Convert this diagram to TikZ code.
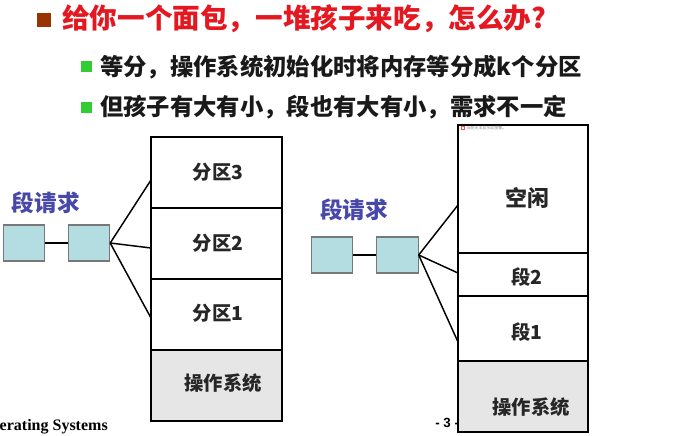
\documentclass[tikz,border=0pt]{standalone}
\usepackage{fontspec}
\setmainfont{Noto Sans CJK SC}
\newfontfamily\serifbold{Liberation Serif}
\newfontfamily\arialfont{Liberation Sans}
\definecolor{titlered}{RGB}{228,24,32}
\definecolor{bulletbrown}{RGB}{153,51,0}
\definecolor{bulletgreen}{RGB}{51,204,51}
\definecolor{reqblue}{RGB}{72,72,168}
\definecolor{reqcyan}{RGB}{180,221,226}
\definecolor{boxgray}{RGB}{120,120,120}
\definecolor{osgray}{RGB}{230,230,230}

\begin{document}
\begin{tikzpicture}[x=0.75pt,y=0.75pt,yscale=-1,xscale=1,
  cell/.style={draw=black,line width=1.5pt,minimum width=98.25pt,inner sep=0pt},
  oscell/.style={cell,fill=osgray},
  req/.style={draw=boxgray,fill=reqcyan,line width=0.8pt,minimum width=31pt,minimum height=27pt,inner sep=0pt},
  link/.style={line width=1.1pt},
  celltext/.style={inner sep=0pt,text=black!85,font=\bfseries\fontsize{14.5}{17}\selectfont},
  reqtext/.style={inner sep=0pt,text=reqblue,font=\bfseries\fontsize{17}{20}\selectfont},
  subtext/.style={anchor=west,inner sep=0pt,text=black!90,font=\bfseries\fontsize{17.5}{20}\selectfont},
]
\useasboundingbox (0,0) rectangle (690,436);

%Shape: Square bullets
\draw (43.5,20) node (b0) [fill=bulletbrown,minimum size=10.5pt,inner sep=0pt] {};
\draw (86.5,66.5) node (b1) [fill=bulletgreen,minimum size=8.25pt,inner sep=0pt] {};
\draw (86.5,107.5) node (b2) [fill=bulletgreen,minimum size=8.25pt,inner sep=0pt] {};

% Text Node
\draw (62,19) node (t0) [anchor=west,inner sep=0pt,text=titlered,font=\bfseries\fontsize{20.7}{24}\selectfont] {给你一个面包，一堆孩子来吃，怎么办?};
% Text Node
\draw (100,67) node (t1) [subtext] {等分，操作系统初始化时将内存等分成k个分区};
% Text Node
\draw (100,107) node (t2) [subtext] {但孩子有大有小，段也有大有小，需求不一定};

% Text Node
\draw (108,427) node (foot) [anchor=east,inner sep=0pt,font=\serifbold\bfseries\fontsize{12}{14}\selectfont] {Operating Systems};
% Text Node
\draw (435,423) node (pageno) [anchor=west,inner sep=0pt,font=\arialfont\bfseries\fontsize{10}{12}\selectfont] {- 3 -};

%Shape: Rectangle (left memory)
\draw (216.5,172.5) node (p3) [cell,minimum height=53.25pt] {};
\draw (216.5,243.5) node (p2) [cell,minimum height=53.25pt] {};
\draw (216.5,314.5) node (p1) [cell,minimum height=53.25pt] {};
\draw (216.5,385.5) node (os1) [oscell,minimum height=53.25pt] {};

% Text Node
\draw (218,172) node (p3t) [celltext] {分区3};
% Text Node
\draw (218,243) node (p2t) [celltext] {分区2};
% Text Node
\draw (218,313) node (p1t) [celltext] {分区1};
% Text Node
\draw (223,383) node (os1t) [celltext] {操作系统};

%Shape: Rectangle (right memory)
\draw (523,189) node (free) [cell,minimum width=97.5pt,minimum height=96pt] {};
\draw (523,274.5) node (s2) [cell,minimum width=97.5pt,minimum height=32.25pt] {};
\draw (523,328.5) node (s1) [cell,minimum width=97.5pt,minimum height=48.75pt] {};
\draw (523,396.5) node (os2) [oscell,minimum width=97.5pt,minimum height=53.25pt] {};

% Text Node
\draw (466,128) node (broken) [anchor=west,inner sep=0pt,text=black!45,font=\fontsize{3}{3}\selectfont] {当前无法显示此图像。};
\draw (462.5,128) node (brokenicon) [draw=red!70,line width=0.3pt,minimum size=2.5pt,inner sep=0pt] {};
% Text Node
\draw (527,198) node (freet) [celltext,font=\bfseries\fontsize{16.5}{19}\selectfont] {空闲};
% Text Node
\draw (527,277) node (s2t) [celltext] {段2};
% Text Node
\draw (527,332) node (s1t) [celltext] {段1};
% Text Node
\draw (531,407) node (os2t) [celltext] {操作系统};

%Shape: Rectangle (requests)
\draw (24,243) node (q1) [req] {};
\draw (89,243) node (q2) [req] {};
\draw (332,255) node (r1) [req] {};
\draw (397.5,255) node (r2) [req] {};

% Text Node
\draw (46,203) node (lreq) [reqtext] {段请求};
% Text Node
\draw (354,210) node (rreq) [reqtext] {段请求};

%Straight Lines
\coordinate (lp3) at (151,180);
\coordinate (lp2) at (151,248);
\coordinate (lp1) at (151,318);
\coordinate (rfree) at (458,205);
\coordinate (rs2) at (458,273);
\coordinate (rs1) at (458,342);
\draw [link] (q1) -- (q2);
\draw [link] (q2.east) -- (lp3);
\draw [link] (q2.east) -- (lp2);
\draw [link] (q2.east) -- (lp1);
\draw [link] (r1) -- (r2);
\draw [link] (r2.east) -- (rfree);
\draw [link] (r2.east) -- (rs2);
\draw [link] (r2.east) -- (rs1);

\end{tikzpicture}
\end{document}
